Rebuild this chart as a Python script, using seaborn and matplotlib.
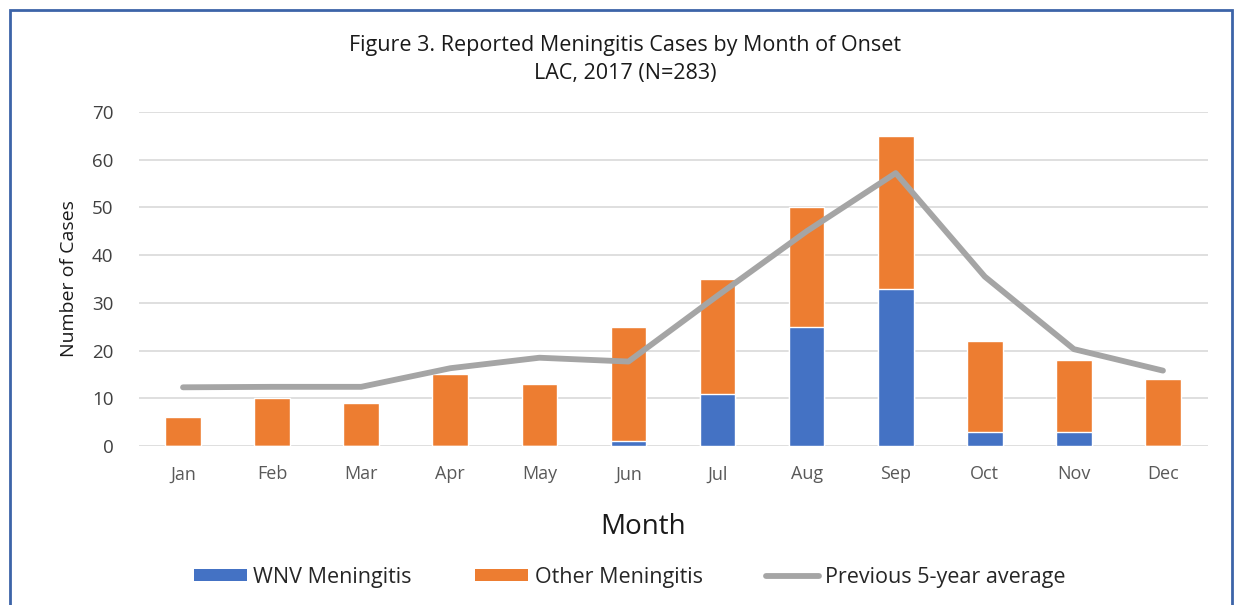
import matplotlib
matplotlib.use("Agg")
import matplotlib.pyplot as plt
from matplotlib.patches import Patch, Rectangle
from matplotlib.lines import Line2D
import seaborn as sns
import pandas as pd

months = ["Jan", "Feb", "Mar", "Apr", "May", "Jun",
          "Jul", "Aug", "Sep", "Oct", "Nov", "Dec"]
wnv_cases = [0, 0, 0, 0, 0, 1, 11, 25, 33, 3, 3, 0]
other_cases = [6, 10, 9, 15, 13, 24, 24, 25, 32, 19, 15, 14]
prev_5yr_avg = [12.3, 12.4, 12.4, 16.3, 18.5, 17.7, 31.5, 45.0, 57.2, 35.5, 20.3, 15.8]

BLUE = "#4472C4"
ORANGE = "#ED7D31"
GRAY = "#A5A5A5"

df = pd.DataFrame({
    "month": months,
    "wnv": wnv_cases,
    "other": other_cases,
    "avg": prev_5yr_avg,
})
df["total"] = df["wnv"] + df["other"]

sns.set_style("white")
plt.rcParams["font.family"] = ["Open Sans", "DejaVu Sans"]

fig = plt.figure(figsize=(12.35, 6.05), dpi=100)
ax = fig.add_axes([138.5 / 1235, 1 - 446 / 605, (1207.5 - 138.5) / 1235, (446 - 112) / 605])

# stacked bars: total in orange, WNV portion drawn over it in blue
sns.barplot(data=df, x="month", y="total", color=ORANGE, width=0.4,
            saturation=1, ax=ax, zorder=2)
sns.barplot(data=df, x="month", y="wnv", color=BLUE, width=0.4,
            saturation=1, ax=ax, zorder=3)
sns.lineplot(x=range(len(months)), y=df["avg"], color=GRAY, lw=4.2,
             solid_capstyle="round", solid_joinstyle="round", ax=ax, zorder=4)

ax.set_ylim(0, 70)
ax.set_xlim(-0.5, 11.5)
ax.set_yticks(range(0, 71, 10))
ax.yaxis.grid(True, color="#D9D9D9", lw=1.2)
ax.set_axisbelow(True)
for s in ax.spines.values():
    s.set_visible(False)
ax.tick_params(axis="both", length=0)
ax.tick_params(axis="y", labelsize=13.5, labelcolor="#404040", pad=18)
ax.tick_params(axis="x", labelsize=13, labelcolor="#595959", pad=14)

ax.set_xlabel("Month", fontsize=20, color="#1a1a1a", va="center")
ax.xaxis.set_label_coords((643 - 138.5) / 1069, (446 - 527) / 334)
ax.set_ylabel("Number of Cases", fontsize=14, color="#1a1a1a", labelpad=10)

fig.text(625 / 1235, 1 - 46 / 605, "Figure 3. Reported Meningitis Cases by Month of Onset",
         ha="center", va="center", fontsize=15.5, color="#1a1a1a")
fig.text(625 / 1235, 1 - 73 / 605, "LAC, 2017 (N=283)",
         ha="center", va="center", fontsize=15.5, color="#1a1a1a")

handles = [
    Patch(facecolor=BLUE, edgecolor="none"),
    Patch(facecolor=ORANGE, edgecolor="none"),
    Line2D([0], [0], color=GRAY, lw=4.2, solid_capstyle="round"),
]
labels = ["WNV Meningitis", "Other Meningitis", "Previous 5-year average"]
fig.legend(handles, labels, loc="center", bbox_to_anchor=(630 / 1235, 1 - 577 / 605),
           ncol=3, frameon=False, handlelength=2.45, handleheight=0.45,
           columnspacing=2.95, handletextpad=0.3,
           prop={"size": 15.5})

# frame around the chart
fig.patches.append(Rectangle((10 / 1235, -0.05), (1232 - 10) / 1235, 1 - 10 / 605 + 0.05,
                             transform=fig.transFigure, fill=False,
                             edgecolor="#3C64A8", lw=2))

fig.savefig("out.png", dpi=100)
